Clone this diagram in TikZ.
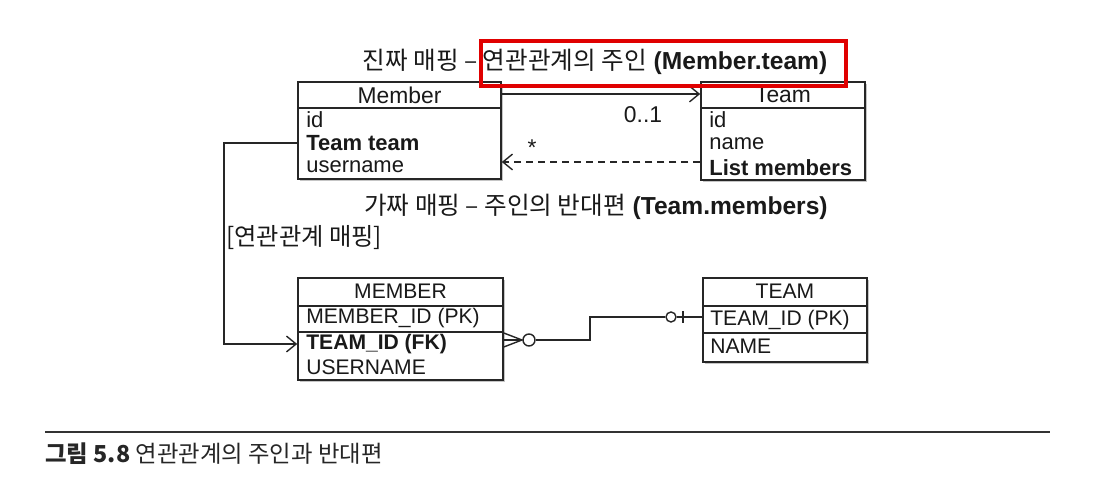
\documentclass[tikz,border=0pt]{standalone}
\usepackage{fontspec}
\setmainfont{Liberation Sans}
\newfontfamily\kr{Noto Sans CJK KR}
\usetikzlibrary{arrows.meta,shadows}

\tikzset{
  box/.style={draw=black!85, line width=0.9pt, fill=white, rectangle, inner sep=0pt,
    drop shadow={shadow xshift=1.2pt, shadow yshift=-1.2pt, fill=black!45}},
  boxline/.style={draw=black!85, line width=0.9pt},
  row/.style={anchor=west, inner sep=0pt, text=black!90, font=\fontsize{12.5}{14}\selectfont},
  erow/.style={row, font=\fontsize{12}{14}\selectfont},
  hdr/.style={inner sep=0pt, text=black!90, font=\fontsize{13}{15}\selectfont},
  ttl/.style={inner sep=0pt, text=black!90, font=\fontsize{14}{16}\selectfont},
  conn/.style={draw=black!85, line width=0.8pt},
  barb/.style={-{Straight Barb[length=5.5pt,width=9pt,line width=0.8pt]}},
  circ/.style={circle, draw=black!85, line width=0.8pt, fill=white, inner sep=0pt},
  redbox/.style={rectangle, draw=red!88!black, line width=2.3pt, inner sep=0pt},
}

\begin{document}
\begin{tikzpicture}[x=0.02cm, y=-0.02cm]
\useasboundingbox (0,0) rectangle (1100,492);

% object model
\node[box, minimum width=4.06cm, minimum height=1.94cm] (member) at (399.5,130.5) {};
\draw[boxline] (member.west |- 0,108) -- (member.east |- 0,108);
\node[hdr] (memberhdr) at (399.5,95) {Member};
\node[row] (mid) at (306,120) {id};
\node[row, font=\fontsize{12.5}{14}\selectfont\bfseries] (mteam) at (306,143) {Team team};
\node[row] (muser) at (306,167) {username};

\node[box, minimum width=3.28cm, minimum height=1.96cm] (team) at (783,131) {};
\draw[boxline] (team.west |- 0,108) -- (team.east |- 0,108);
\node[hdr] (teamhdr) at (783,95) {Team};
\node[row] (tid) at (709,120) {id};
\node[row] (tname) at (709,144) {name};
\node[row, font=\fontsize{12.5}{14}\selectfont\bfseries] (tmembers) at (709,168) {List members};

\coordinate (real) at (0,94);
\coordinate (fake) at (0,162);
\draw[conn, barb] (member.east |- real) -- (team.west |- real);
\draw[conn, barb, dash pattern=on 4pt off 2.8pt] (team.west |- fake) -- (member.east |- fake);
\node[hdr] (mult1) at (643,115) {0..1};
\node[hdr] (mult2) at (532,148) {*};

\node[ttl] (owner) at (595,62) {{\kr 진짜 매핑 – 연관관계의 주인} \textbf{(Member.team)}};
\node[ttl] (inverse) at (596,207) {{\kr 가짜 매핑 – 주인의 반대편} \textbf{(Team.members)}};

% tables
\node[box, minimum width=4.1cm, minimum height=2.04cm] (memberT) at (400.5,329) {};
\draw[boxline] (memberT.west |- 0,306) -- (memberT.east |- 0,306);
\draw[boxline] (memberT.west |- 0,332) -- (memberT.east |- 0,332);
\node[hdr, font=\fontsize{12}{14}\selectfont] (memberThdr) at (400.5,291) {MEMBER};
\node[erow] (epk) at (306,318) {MEMBER\_ID (PK)};
\node[erow, font=\fontsize{12}{14}\selectfont\bfseries] (efk) at (306,344) {TEAM\_ID (FK)};
\node[erow] (euser) at (306,367) {USERNAME};

\node[box, minimum width=3.28cm, minimum height=1.68cm] (teamT) at (785,320) {};
\draw[boxline] (teamT.west |- 0,306) -- (teamT.east |- 0,306);
\draw[boxline] (teamT.west |- 0,333) -- (teamT.east |- 0,333);
\node[hdr, font=\fontsize{12}{14}\selectfont] (teamThdr) at (785,291) {TEAM};
\node[erow] (tpk) at (710,320) {TEAM\_ID (PK)};
\node[erow] (tnm) at (710,346) {NAME};

% mapping
\coordinate (bend) at (224,240);
\draw[conn, barb] (member.west |- mteam) -| (bend) |- (memberT.west |- efk);
\node[ttl, anchor=west, font=\fontsize{13.8}{15}\selectfont] (maplbl) at (226,238) {\kr [연관관계 매핑]};

% relation
\node[circ, minimum size=0.24cm] (c1) at (529,340) {};
\node[circ, minimum size=0.2cm] (c2) at (671,317) {};
\coordinate (kink) at (590,340);
\draw[conn] (memberT.east |- 0,333) -- (522,340) -- (memberT.east |- 0,347);
\draw[conn] (memberT.east |- c1) -- (c1);
\draw[conn] (c1) -- (kink) |- (c2);
\draw[conn] (c2) -- (teamT.west |- c2);
\draw[conn] (683,311) -- (683,323);

\node[redbox, minimum width=7.3cm, minimum height=0.9cm] (hl) at (663.5,63.5) {};

% caption
\draw[black!80, line width=1.3pt] (45,432) -- (1050,432);
\node[anchor=west, inner sep=0pt, text=black!85, font=\fontsize{13.3}{15}\selectfont] (caption) at (45,454) {\kr\textbf{그림 5.8} 연관관계의 주인과 반대편};
\end{tikzpicture}
\end{document}
